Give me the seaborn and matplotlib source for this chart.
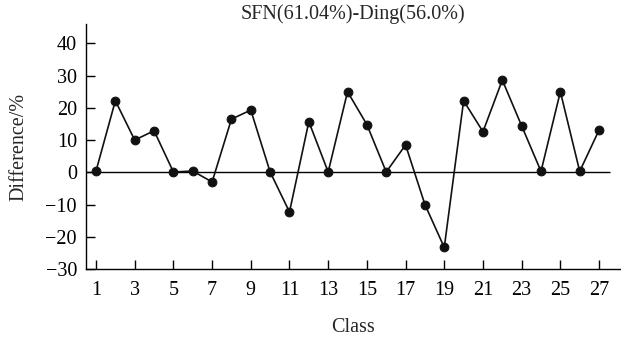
import matplotlib
matplotlib.use("Agg")
import matplotlib.pyplot as plt
import seaborn as sns
import pandas as pd

classes = list(range(1, 28))
difference = [0.4, 22.2, 10.0, 12.9, 0.1, 0.4, -3.0, 16.5, 19.3, 0.1,
              -12.3, 15.7, 0.1, 25.0, 14.8, 0.1, 8.5, -10.0, -23.3, 22.2,
              12.6, 28.6, 14.4, 0.3, 25.0, 0.3, 13.1]
xtick_labels = [str(i) for i in range(1, 28, 2)]
yticks = [-30, -20, -10, 0, 10, 20, 30, 40]
title = "SFN(61.04%)-Ding(56.0%)"

df = pd.DataFrame({"Class": classes, "Difference": difference})

sns.set_style("ticks")
plt.rcParams["font.family"] = ["Liberation Serif", "DejaVu Serif"]

fig = plt.figure(figsize=(6.21, 3.38), dpi=100)
ax = fig.add_axes([0.1385, 0.204, 0.8595, 0.725])

ax.hlines(0, 0.483, 27.57, color="black", linewidth=1.0, zorder=1)
sns.lineplot(data=df, x="Class", y="Difference", ax=ax, color="#111111",
             linewidth=1.2, marker="o", markersize=6.3,
             markeredgecolor="#111111", markerfacecolor="#111111", zorder=3)

ax.set_xlim(0.483, 28.07)
ax.set_ylim(-30, 46)
ax.set_xticks(list(range(1, 28, 2)))
ax.set_xticklabels(xtick_labels)
ax.set_yticks(yticks)
ax.set_yticklabels(["\u2212" + str(-v) if v < 0 else str(v) for v in yticks])

for s in ["top", "right"]:
    ax.spines[s].set_visible(False)
for s in ["left", "bottom"]:
    ax.spines[s].set_linewidth(1.0)
    ax.spines[s].set_color("black")

ax.tick_params(axis="both", direction="in", length=6.5, width=1.0,
               labelsize=14.5, colors="black")
ax.tick_params(axis="y", pad=6.5)
ax.tick_params(axis="x", pad=8.5)

ax.set_xlabel("Class", fontsize=14.5, labelpad=13)
ax.set_ylabel("Difference/%", fontsize=14.5, labelpad=12)
ax.set_title(title, fontsize=14.5, pad=1)

fig.savefig("out.png", dpi=100)
